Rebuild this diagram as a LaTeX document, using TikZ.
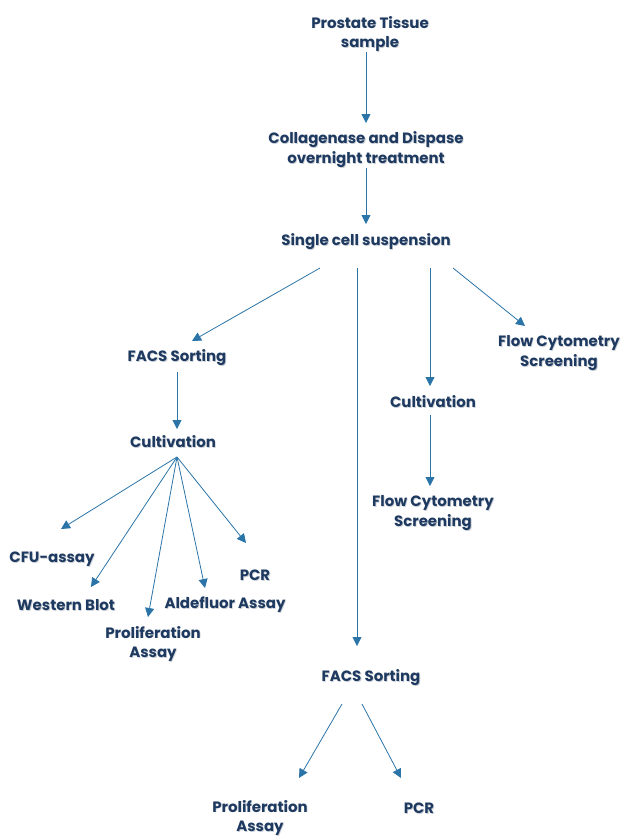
\documentclass[tikz,border=0pt]{standalone}
\usepackage{fontspec}
\setmainfont{Poppins}
\usetikzlibrary{arrows.meta}
\definecolor{txt}{HTML}{1F3A60}
\definecolor{shd}{HTML}{CDD2D8}
\definecolor{arr}{HTML}{2A74A8}
\newcommand\shlab[3]{%
  \node[lab, text=shd] (#1-sh) at ([shift={(0.8,0.8)}]#2) {#3};
  \node[lab] (#1) at (#2) {#3};}
\begin{document}
\begin{tikzpicture}[x=1bp,y=-1bp,
  lab/.style={font=\fontsize{15}{20}\selectfont\bfseries, text=txt, align=center, inner sep=0pt},
  con/.style={draw=arr, line width=0.8bp, -{Triangle[width=9bp,length=9bp]}}]
\useasboundingbox (0,0) rectangle (622,837);
\shlab{pts}{370,34}{Prostate Tissue\\sample}
\shlab{col}{366,150}{Collagenase and Dispase\\overnight treatment}
\shlab{scs}{366,242}{Single cell suspension}
\shlab{facs1}{177,358}{FACS Sorting}
\shlab{cult1}{173,442}{Cultivation}
\shlab{cfu}{52,559}{CFU-assay}
\shlab{wb}{66,605}{Western Blot}
\shlab{pa1}{153,644}{Proliferation\\Assay}
\shlab{ald}{225,605}{Aldefluor Assay}
\shlab{pcr1}{255,575}{PCR}
\shlab{fcs1}{559,353}{Flow Cytometry\\Screening}
\shlab{cult2}{433,402}{Cultivation}
\shlab{fcs2}{433,513}{Flow Cytometry\\Screening}
\shlab{facs2}{371,678}{FACS Sorting}
\shlab{pa2}{260,818}{Proliferation\\Assay}
\shlab{pcr2}{419,808}{PCR}
% anchor coordinates
\coordinate (a1s) at (366,52); \coordinate (a1e) at (366,123);
\coordinate (a2s) at (366,168); \coordinate (a2e) at (366,224);
\coordinate (b1s) at (320,268); \coordinate (b1e) at (192,341);
\coordinate (b2s) at (357,268); \coordinate (b2e) at (357,646);
\coordinate (b3s) at (430,268); \coordinate (b3e) at (430,386);
\coordinate (b4s) at (453,268); \coordinate (b4e) at (525,326);
\coordinate (c1s) at (177,372); \coordinate (c1e) at (177,429);
\coordinate (cs) at (177,457);
\coordinate (d1) at (61,529); \coordinate (d2) at (91,587);
\coordinate (d3) at (148,617); \coordinate (d4) at (205,588);
\coordinate (d5) at (246,543);
\coordinate (e1s) at (430,415); \coordinate (e1e) at (430,486);
\coordinate (f1s) at (342,704); \coordinate (f1e) at (299,778);
\coordinate (f2s) at (362,704); \coordinate (f2e) at (401,778);
\draw[con] (a1s) -- (a1e);
\draw[con] (a2s) -- (a2e);
\draw[con] (b1s) -- (b1e);
\draw[con] (b2s) -- (b2e);
\draw[con] (b3s) -- (b3e);
\draw[con] (b4s) -- (b4e);
\draw[con] (c1s) -- (c1e);
\foreach \d in {d1,d2,d3,d4,d5} \draw[con] (cs) -- (\d);
\draw[con] (e1s) -- (e1e);
\draw[con] (f1s) -- (f1e);
\draw[con] (f2s) -- (f2e);
\end{tikzpicture}
\end{document}
